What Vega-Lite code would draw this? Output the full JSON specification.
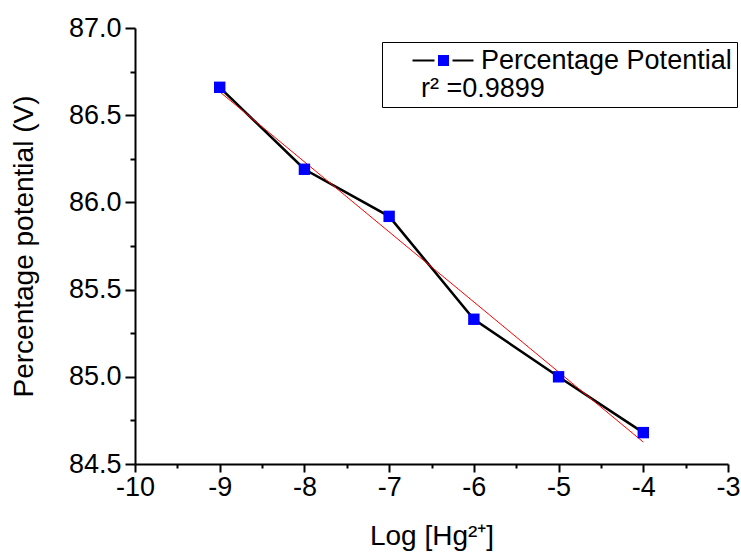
{
  "$schema": "https://vega.github.io/schema/vega-lite/v6.json",
  "width": 593,
  "height": 436,
  "autosize": {"type": "none"},
  "padding": {"left": 135, "top": 28, "right": 13, "bottom": 89},
  "background": "white",
  "config": {
    "font": "Liberation Sans",
    "view": {"stroke": null},
    "axis": {
      "grid": false,
      "domainColor": "black",
      "domainWidth": 2,
      "tickColor": "black",
      "tickWidth": 2,
      "labelColor": "black",
      "titleColor": "black",
      "labelFont": "Liberation Sans",
      "titleFont": "Liberation Sans",
      "labelFontSize": 27,
      "titleFontSize": 28,
      "titleFontWeight": "normal",
      "labelFlush": false,
      "labelOverlap": false
    },
    "legend": {
      "labelFont": "Liberation Sans",
      "titleFont": "Liberation Sans"
    }
  },
  "data": {
    "values": [
      {"logHg": -9, "potential": 86.66},
      {"logHg": -8, "potential": 86.19},
      {"logHg": -7, "potential": 85.92},
      {"logHg": -6, "potential": 85.33},
      {"logHg": -5, "potential": 85.0},
      {"logHg": -4, "potential": 84.68}
    ]
  },
  "layer": [
    {
      "mark": {"type": "line", "strokeWidth": 2.5},
      "encoding": {
        "x": {
          "field": "logHg",
          "type": "quantitative",
          "scale": {"domain": [-10, -3], "nice": false, "zero": false},
          "title": "Log [Hg²⁺]",
          "axis": {
            "values": [-10, -9.5, -9, -8.5, -8, -7.5, -7, -6.5, -6, -5.5, -5, -4.5, -4, -3.5, -3],
            "labelExpr": "datum.value % 1 === 0 ? '' + datum.value : ''",
            "tickSize": {"condition": {"test": "datum.value % 1 === 0", "value": 8}, "value": 4},
            "labelPadding": 2,
            "titlePadding": 22
          }
        },
        "y": {
          "field": "potential",
          "type": "quantitative",
          "scale": {"domain": [84.5, 87], "nice": false, "zero": false},
          "title": "Percentage potential (V)",
          "axis": {
            "values": [84.5, 84.75, 85, 85.25, 85.5, 85.75, 86, 86.25, 86.5, 86.75, 87],
            "labelExpr": "(datum.value * 2) % 1 === 0 ? format(datum.value, '.1f') : ''",
            "tickSize": {"condition": {"test": "(datum.value * 2) % 1 === 0", "value": 10}, "value": 5},
            "labelPadding": 4,
            "titlePadding": 30
          }
        },
        "stroke": {
          "datum": "Percentage Potential",
          "scale": {"range": ["black"]},
          "legend": {
            "orient": "none",
            "legendX": 247,
            "legendY": 14,
            "title": "r² =0.9899",
            "titleOrient": "bottom",
            "titleAnchor": "start",
            "titleFontSize": 27,
            "titleFontWeight": "normal",
            "titleColor": "black",
            "titlePadding": 2,
            "labelFontSize": 27,
            "labelColor": "black",
            "labelLimit": 400,
            "strokeColor": "black",
            "padding": 5,
            "symbolType": "M-6.2,0H-1.8M1.8,0H6.0",
            "symbolSize": 100,
            "symbolStrokeWidth": 2,
            "symbolStrokeColor": "black",
            "symbolOffset": 43,
            "labelOffset": 24,
            "encode": {"title": {"update": {"dx": {"value": 34}}}}
          }
        }
      }
    },
    {
      "transform": [{"regression": "potential", "on": "logHg"}],
      "mark": {"type": "line", "color": "#ff0000", "strokeWidth": 1},
      "encoding": {
        "x": {"field": "logHg", "type": "quantitative"},
        "y": {"field": "potential", "type": "quantitative"}
      }
    },
    {
      "mark": {"type": "point", "shape": "square", "filled": true, "size": 130, "opacity": 1, "strokeWidth": 0},
      "encoding": {
        "x": {"field": "logHg", "type": "quantitative"},
        "y": {"field": "potential", "type": "quantitative"},
        "fill": {
          "datum": "marker",
          "scale": {"range": ["#0000ff"]},
          "legend": {
            "orient": "none",
            "legendX": 247,
            "legendY": 14,
            "title": null,
            "labelFontSize": 27,
            "labelExpr": "''",
            "padding": 5,
            "symbolType": "M-0.9,-0.9H0.9V0.9H-0.9Z",
            "symbolSize": 100,
            "symbolStrokeWidth": 2,
            "symbolStrokeColor": "#0000ff",
            "symbolFillColor": "#0000ff",
            "symbolOpacity": 1,
            "symbolOffset": 43,
            "labelOffset": 24
          }
        }
      }
    }
  ]
}
